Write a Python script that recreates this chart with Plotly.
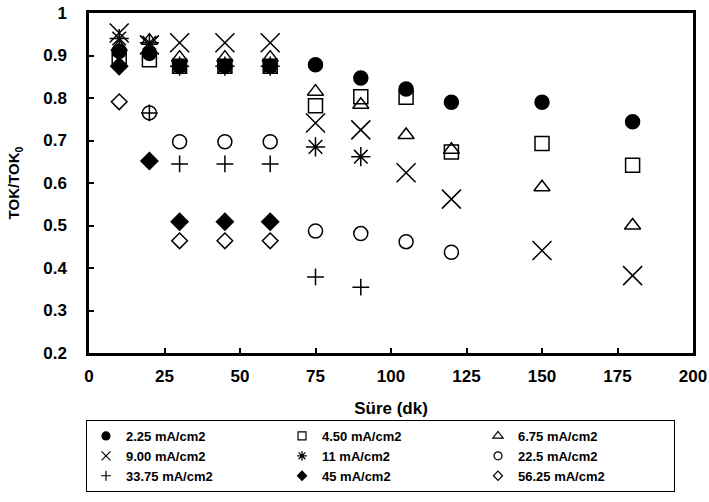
import plotly.graph_objects as go

# ---- data ----
x_full = [10, 20, 30, 45, 60, 75, 90, 105, 120, 150, 180]

y_225 = [0.910, 0.905, 0.875, 0.875, 0.875, 0.878, 0.847, 0.821, 0.790, 0.790, 0.744]
y_450 = [0.890, 0.890, 0.875, 0.875, 0.875, 0.782, 0.803, 0.802, 0.673, 0.693, 0.642]
y_675 = [0.920, 0.935, 0.895, 0.895, 0.895, 0.815, 0.784, 0.713, 0.678, 0.590, 0.500]
y_900 = [0.953, 0.925, 0.930, 0.930, 0.930, 0.741, 0.725, 0.624, 0.562, 0.441, 0.382]

x_11 = [10, 20, 30, 45, 60, 75, 90]
y_11 = [0.940, 0.930, 0.875, 0.875, 0.875, 0.685, 0.662]

x_225b = [20, 30, 45, 60, 75, 90, 105, 120]
y_225b = [0.765, 0.697, 0.697, 0.697, 0.487, 0.481, 0.462, 0.437]

x_3375 = [10, 20, 30, 45, 60, 75, 90]
y_3375 = [0.875, 0.765, 0.645, 0.645, 0.645, 0.379, 0.355]

x_45 = [10, 20, 30, 45, 60]
y_45 = [0.875, 0.652, 0.509, 0.509, 0.509]

x_5625 = [10, 30, 45, 60]
y_5625 = [0.791, 0.464, 0.464, 0.464]

names = ["2.25 mA/cm2", "4.50 mA/cm2", "6.75 mA/cm2",
         "9.00 mA/cm2", "11 mA/cm2", "22.5 mA/cm2",
         "33.75 mA/cm2", "45 mA/cm2", "56.25 mA/cm2"]

x_ticks = [0, 25, 50, 75, 100, 125, 150, 175, 200]
y_ticks = [0.2, 0.3, 0.4, 0.5, 0.6, 0.7, 0.8, 0.9, 1.0]
y_tick_text = ["0.2", "0.3", "0.4", "0.5", "0.6", "0.7", "0.8", "0.9", "1"]

# (x, y, symbol, plot size, legend size)
series = [
    (x_full, y_225, "circle", 14, 8),
    (x_full, y_450, "square-open", 14, 8),
    (x_full, y_675, "triangle-up-open", 14, 9),
    (x_full, y_900, "x-thin-open", 19, 9),
    (x_11, y_11, "asterisk-open", 16, 8),
    (x_225b, y_225b, "circle-open", 14, 8),
    (x_3375, y_3375, "cross-thin-open", 12, 7),
    (x_45, y_45, "diamond", 13, 7),
    (x_5625, y_5625, "diamond-open", 12, 7),
]

FONT = "Liberation Sans, Arial, sans-serif"

fig = go.Figure()
for (xs, ys, sym, sz, lsz), nm in zip(series, names):
    # plotted points
    fig.add_trace(go.Scatter(
        x=xs, y=ys, mode="markers", name=nm, showlegend=False,
        legendgroup=nm,
        marker=dict(symbol=sym, size=sz, color="black",
                    line=dict(color="black", width=1.5)),
    ))
for (xs, ys, sym, sz, lsz), nm in zip(series, names):
    # legend entry (small symbol like the reference key)
    fig.add_trace(go.Scatter(
        x=[None], y=[None], mode="markers", name=nm, showlegend=True,
        legendgroup=nm,
        marker=dict(symbol=sym, size=lsz, color="black",
                    line=dict(color="black", width=1.2)),
    ))

axis_common = dict(
    showline=True, linecolor="black", linewidth=2.5, mirror=True,
    ticks="inside", ticklen=5, tickwidth=2, tickcolor="black",
    showgrid=False, zeroline=False, automargin=False,
    tickfont=dict(family=FONT, size=17, color="black", weight="bold"),
)

fig.update_xaxes(
    range=[0, 200], tickvals=x_ticks, ticklabelstandoff=6,
    title=dict(text="Süre (dk)", standoff=17,
               font=dict(family=FONT, size=17, color="black", weight="bold")),
    **axis_common,
)
fig.update_yaxes(
    range=[0.2, 1.0], tickvals=y_ticks, ticktext=y_tick_text, ticklabelstandoff=16,
    title=dict(text="TOK/TOK<sub>0</sub>", standoff=20,
               font=dict(family=FONT, size=15, color="black", weight="bold")),
    **axis_common,
)

fig.update_layout(
    width=709, height=502,
    margin=dict(l=89, r=16, t=13, b=149, autoexpand=False),
    paper_bgcolor="white", plot_bgcolor="white",
    font=dict(family=FONT, color="black"),
    legend=dict(
        orientation="h", xref="container", x=86 / 709, xanchor="left",
        yref="container", y=10 / 502, yanchor="bottom",
        bordercolor="black", borderwidth=1, bgcolor="white",
        font=dict(family=FONT, size=13, color="black", weight="bold"),
        entrywidth=151, itemsizing="trace",
        tracegroupgap=0,
    ),
)

fig.write_html(
    "out.html",
    config={"displayModeBar": False},
    post_script="document.body.style.margin='0';document.body.style.overflow='hidden';",
)
